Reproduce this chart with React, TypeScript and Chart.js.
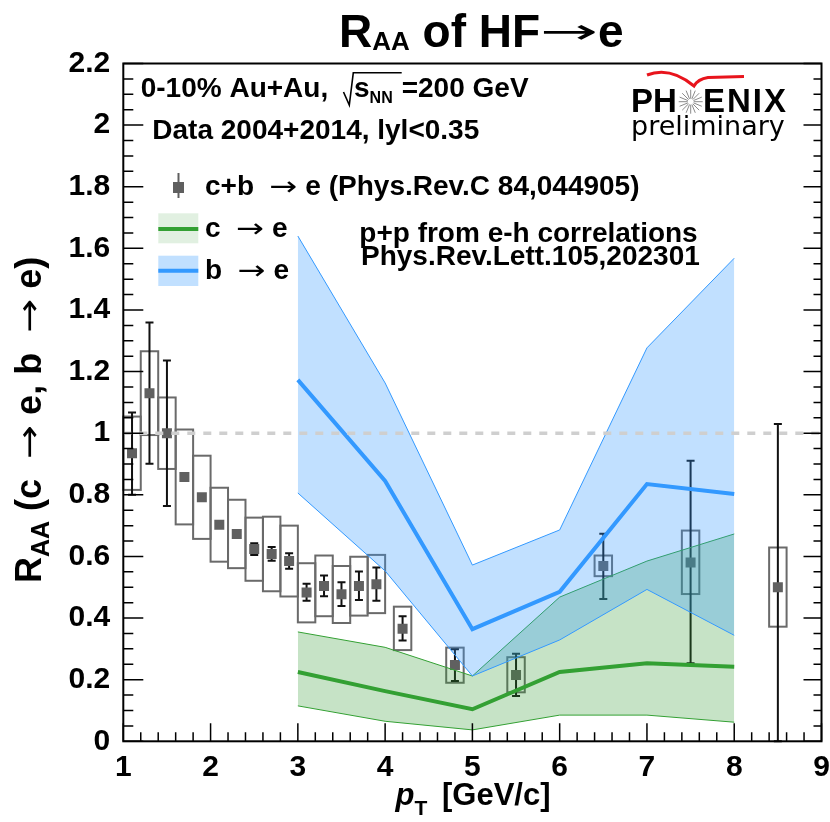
import React, { useEffect, useRef } from "react";
import { Chart, registerables } from "chart.js";

Chart.register(...registerables);

// ---- data: c+b -> e measurement ----
const ptPoints = [1.1, 1.3, 1.5, 1.7, 1.9, 2.1, 2.3, 2.5, 2.7, 2.9, 3.1, 3.3, 3.5, 3.7, 3.9, 4.2, 4.8, 5.5, 6.5, 7.5, 8.5];
const raaValues = [0.935, 1.13, 1.0, 0.858, 0.792, 0.703, 0.673, 0.624, 0.608, 0.585, 0.483, 0.504, 0.477, 0.504, 0.51, 0.365, 0.248, 0.215, 0.569, 0.58, 0.5];
const statLow = [0.8, 0.901, 0.764, 0.85, 0.785, 0.695, 0.66, 0.605, 0.586, 0.56, 0.456, 0.471, 0.439, 0.459, 0.456, 0.327, 0.196, 0.147, 0.462, 0.253, 0.0];
const statHigh = [1.067, 1.359, 1.236, 0.866, 0.8, 0.711, 0.686, 0.643, 0.631, 0.61, 0.511, 0.538, 0.516, 0.551, 0.564, 0.406, 0.299, 0.284, 0.674, 0.911, 1.03];
const sysLow = [0.816, 0.994, 0.884, 0.704, 0.657, 0.583, 0.562, 0.521, 0.487, 0.47, 0.386, 0.406, 0.384, 0.408, 0.416, 0.296, 0.19, 0.159, 0.536, 0.478, 0.372];
const sysHigh = [1.054, 1.266, 1.116, 1.012, 0.927, 0.823, 0.784, 0.726, 0.729, 0.7, 0.578, 0.603, 0.569, 0.599, 0.605, 0.437, 0.304, 0.273, 0.603, 0.684, 0.629];
const sysHalfWidth = 0.1;

// ---- data: b -> e and c -> e bands ----
const bandPt = [3, 4, 5, 6, 7, 8];
const bUpper = [1.64, 1.163, 0.572, 0.686, 1.277, 1.568];
const bCentral = [1.173, 0.845, 0.364, 0.485, 0.835, 0.803];
const bLower = [0.806, 0.553, 0.212, 0.329, 0.493, 0.344];
const cUpper = [0.355, 0.305, 0.212, 0.468, 0.585, 0.673];
const cCentral = [0.225, 0.163, 0.104, 0.225, 0.253, 0.242];
const cLower = [0.115, 0.065, 0.037, 0.085, 0.085, 0.062];

// ---- ticks ----
const xTickValues = [1, 2, 3, 4, 5, 6, 7, 8, 9];
const xTickLabels = ["1", "2", "3", "4", "5", "6", "7", "8", "9"];
const yTickValues = [0, 0.2, 0.4, 0.6, 0.8, 1, 1.2, 1.4, 1.6, 1.8, 2, 2.2];
const yTickLabels = ["0", "0.2", "0.4", "0.6", "0.8", "1", "1.2", "1.4", "1.6", "1.8", "2", "2.2"];

const FONT = '"Liberation Sans", Arial, sans-serif';
const SYM = '"DejaVu Sans", sans-serif';
const BLUE = "#3399ff";
const GREEN = "#33a033";
const ARROW = "\u2192";

const pts = (xs: number[], ys: number[]) => xs.map((x, i) => ({ x, y: ys[i] }));

type Seg = { t: string; size: number; dy?: number; arrowW?: number; style?: string };

// draws a run of text pieces; arrows drawn with a symbol font stretched to a given width
function drawRun(ctx: CanvasRenderingContext2D, segs: Seg[], x: number, y: number) {
  let cx = x;
  for (const s of segs) {
    if (s.arrowW) {
      ctx.font = `${s.size}px ${SYM}`;
      const w = ctx.measureText(s.t).width;
      ctx.save();
      ctx.translate(cx, y + (s.dy || 0));
      ctx.scale(s.arrowW / w, 1);
      ctx.fillText(s.t, 0, 0);
      ctx.restore();
      cx += s.arrowW;
    } else {
      ctx.font = `${s.style || "bold"} ${s.size}px ${FONT}`;
      ctx.fillText(s.t, cx, y + (s.dy || 0));
      cx += ctx.measureText(s.t).width;
    }
  }
  return cx - x;
}

const overlayPlugin = {
  id: "overlay",
  beforeDatasetsDraw(chart: any) {
    const { ctx, scales } = chart;
    const xs = scales.x, ys = scales.y;
    ctx.save();
    // systematic boxes
    ctx.strokeStyle = "#6a6a6a";
    ctx.lineWidth = 2;
    ptPoints.forEach((p, i) => {
      const x0 = xs.getPixelForValue(p - sysHalfWidth);
      const x1 = xs.getPixelForValue(p + sysHalfWidth);
      const y0 = ys.getPixelForValue(sysHigh[i]);
      const y1 = ys.getPixelForValue(sysLow[i]);
      ctx.strokeRect(x0, y0, x1 - x0, y1 - y0);
    });
    // statistical error bars
    ctx.strokeStyle = "#111";
    ctx.lineWidth = 2;
    ptPoints.forEach((p, i) => {
      const x = xs.getPixelForValue(p);
      const yl = ys.getPixelForValue(statLow[i]);
      const yh = ys.getPixelForValue(statHigh[i]);
      ctx.beginPath();
      ctx.moveTo(x, yl);
      ctx.lineTo(x, yh);
      ctx.moveTo(x - 4, yl);
      ctx.lineTo(x + 4, yl);
      ctx.moveTo(x - 4, yh);
      ctx.lineTo(x + 4, yh);
      ctx.stroke();
    });
    ctx.restore();
  },
  afterDatasetsDraw(chart: any) {
    const { ctx, scales, chartArea: a } = chart;
    const xs = scales.x, ys = scales.y;
    ctx.save();
    // dashed unity line
    ctx.strokeStyle = "#cfcfcf";
    ctx.lineWidth = 3.5;
    ctx.setLineDash([8, 8]);
    ctx.beginPath();
    ctx.moveTo(xs.getPixelForValue(1), ys.getPixelForValue(1));
    ctx.lineTo(xs.getPixelForValue(9), ys.getPixelForValue(1));
    ctx.stroke();
    ctx.setLineDash([]);
    // frame
    ctx.strokeStyle = "#000";
    ctx.lineWidth = 2;
    ctx.strokeRect(a.left, a.top, a.right - a.left, a.bottom - a.top);
    // ticks
    ctx.lineWidth = 1.5;
    ctx.beginPath();
    for (let k = 0; k <= 44; k++) {
      const v = k * 0.05;
      const py = ys.getPixelForValue(v);
      const major = k % 4 === 0;
      ctx.moveTo(a.left, py);
      ctx.lineTo(a.left + (major ? 20 : 10), py);
      ctx.moveTo(a.right, py);
      ctx.lineTo(a.right - (major ? 18 : 8), py);
    }
    for (let k = 0; k <= 40; k++) {
      const v = 1 + k * 0.2;
      const px = xs.getPixelForValue(v);
      const major = k % 5 === 0;
      ctx.moveTo(px, a.bottom);
      ctx.lineTo(px, a.bottom - (major ? 18 : 9));
    }
    ctx.stroke();
    ctx.restore();
  },
  afterDraw(chart: any) {
    const { ctx } = chart;
    ctx.save();
    ctx.fillStyle = "#000";
    ctx.textBaseline = "alphabetic";
    ctx.textAlign = "left";

    // Title
    drawRun(ctx, [
      { t: "R", size: 46 },
      { t: "AA", size: 26, dy: 3.3 },
      { t: " of HF", size: 46 },
      { t: ARROW, size: 34, arrowW: 58, dy: -4 },
      { t: "e", size: 46 },
    ], 339, 46.7);

    // Y axis title (rotated)
    ctx.save();
    ctx.translate(41, 583);
    ctx.rotate(-Math.PI / 2);
    drawRun(ctx, [
      { t: "R", size: 36 },
      { t: "AA", size: 25, dy: 8 },
      { t: " (c  ", size: 36 },
      { t: ARROW, size: 32, arrowW: 34, dy: -1 },
      { t: " e, b  ", size: 36 },
      { t: ARROW, size: 32, arrowW: 34, dy: -1 },
      { t: " e)", size: 36 },
    ], 0, 0);
    ctx.restore();

    // X axis title
    drawRun(ctx, [
      { t: "p", size: 31, style: "italic bold" },
      { t: "T", size: 21, dy: 10 },
    ], 395.6, 805);
    drawRun(ctx, [{ t: "[GeV/c]", size: 31 }], 442, 805);

    // info text
    drawRun(ctx, [{ t: "0-10% Au+Au,", size: 28 }], 140.7, 96.7);
    ctx.strokeStyle = "#000";
    ctx.lineWidth = 1.6;
    ctx.beginPath();
    ctx.moveTo(343.5, 92);
    ctx.lineTo(349.3, 105);
    ctx.lineTo(353.3, 72.7);
    ctx.lineTo(401.7, 72.7);
    ctx.stroke();
    drawRun(ctx, [
      { t: "s", size: 28 },
      { t: "NN", size: 16, dy: 6.6 },
    ], 354, 96.7);
    drawRun(ctx, [{ t: "=200 GeV", size: 28 }], 401.7, 96.7);
    drawRun(ctx, [{ t: "Data 2004+2014, lyl<0.35", size: 28 }], 152.3, 139);

    // legend
    ctx.fillStyle = "#5f5f5f";
    ctx.fillRect(173, 182, 11, 11);
    ctx.strokeStyle = "#5f5f5f";
    ctx.lineWidth = 2;
    ctx.beginPath();
    ctx.moveTo(178.5, 173);
    ctx.lineTo(178.5, 198);
    ctx.stroke();
    ctx.fillStyle = "#000";
    drawRun(ctx, [
      { t: "c+b  ", size: 28 },
      { t: ARROW, size: 26, arrowW: 28 },
      { t: " e (Phys.Rev.C 84,044905)", size: 28 },
    ], 205, 195);

    ctx.fillStyle = "rgba(51,153,51,0.15)";
    ctx.fillRect(158.3, 213.3, 40, 30);
    ctx.strokeStyle = GREEN;
    ctx.lineWidth = 4;
    ctx.beginPath();
    ctx.moveTo(158.3, 229);
    ctx.lineTo(198.3, 229);
    ctx.stroke();
    ctx.fillStyle = "#000";
    drawRun(ctx, [
      { t: "c  ", size: 28 },
      { t: ARROW, size: 26, arrowW: 28 },
      { t: " e", size: 28 },
    ], 205, 237.3);

    ctx.fillStyle = "rgba(51,153,255,0.3)";
    ctx.fillRect(158.3, 255.7, 40, 30.3);
    ctx.strokeStyle = BLUE;
    ctx.beginPath();
    ctx.moveTo(158.3, 270.7);
    ctx.lineTo(198.3, 270.7);
    ctx.stroke();
    ctx.fillStyle = "#000";
    drawRun(ctx, [
      { t: "b  ", size: 28 },
      { t: ARROW, size: 26, arrowW: 28 },
      { t: " e", size: 28 },
    ], 205, 279.3);

    drawRun(ctx, [{ t: "p+p from e-h correlations", size: 28 }], 359.3, 241.7);
    drawRun(ctx, [{ t: "Phys.Rev.Lett.105,202301", size: 28 }], 361, 265);

    // PHENIX logo
    ctx.strokeStyle = "#e8141c";
    ctx.lineWidth = 3;
    ctx.beginPath();
    ctx.moveTo(647, 75);
    ctx.quadraticCurveTo(670, 66, 694, 86);
    ctx.quadraticCurveTo(698, 79, 708, 77.5);
    ctx.lineTo(744, 76.5);
    ctx.stroke();
    drawRun(ctx, [{ t: "PH", size: 33 }], 631, 112.3);
    ctx.save();
    (ctx as any).letterSpacing = "2px";
    drawRun(ctx, [{ t: "ENIX", size: 33 }], 703, 112.3);
    ctx.restore();
    ctx.strokeStyle = "#8a8a8a";
    ctx.lineWidth = 1;
    ctx.beginPath();
    for (let k = 0; k < 16; k++) {
      const ang = (k * Math.PI) / 8;
      ctx.moveTo(690.7 + 3 * Math.cos(ang), 101.7 + 3 * Math.sin(ang));
      ctx.lineTo(690.7 + 12 * Math.cos(ang), 101.7 + 12 * Math.sin(ang));
    }
    ctx.stroke();
    ctx.fillStyle = "#000";
    ctx.font = `27px ${SYM}`;
    ctx.fillText("preliminary", 631, 135);
    ctx.restore();
  },
};

export default function App() {
  const canvasRef = useRef<HTMLCanvasElement | null>(null);

  useEffect(() => {
    document.body.style.margin = "0";
    const canvas = canvasRef.current;
    if (!canvas) return;
    const lineDs = (label: string, xs: number[], ys: number[], color: string, width: number, order: number, extra: any = {}) => ({
      type: "line",
      label,
      data: pts(xs, ys),
      borderColor: color,
      borderWidth: width,
      pointRadius: 0,
      tension: 0,
      fill: false,
      order,
      ...extra,
    });
    const chart = new Chart(canvas, {
      type: "line",
      data: {
        datasets: [
          lineDs("b central", bandPt, bCentral, BLUE, 4, 1),
          lineDs("b lower", bandPt, bLower, BLUE, 1, 1),
          lineDs("b upper", bandPt, bUpper, BLUE, 1, 1, { fill: { target: 1 }, backgroundColor: "rgba(51,153,255,0.3)" }),
          lineDs("c central", bandPt, cCentral, GREEN, 4, 2),
          lineDs("c lower", bandPt, cLower, GREEN, 1, 2),
          lineDs("c upper", bandPt, cUpper, GREEN, 1, 2, { fill: { target: 4 }, backgroundColor: "rgba(51,153,51,0.28)" }),
          {
            type: "scatter",
            label: "c+b -> e",
            data: pts(ptPoints, raaValues),
            pointStyle: "rect",
            pointRadius: 7.07,
            backgroundColor: "#606060",
            borderWidth: 0,
            showLine: false,
            order: 3,
          },
        ] as any,
      },
      options: {
        responsive: false,
        maintainAspectRatio: false,
        animation: false,
        layout: { padding: { left: 0, top: 63.5, right: 8.5, bottom: 0 } },
        plugins: { legend: { display: false }, tooltip: { enabled: false }, title: { display: false } },
        scales: {
          x: {
            type: "linear",
            min: 1,
            max: 9,
            afterBuildTicks: (s: any) => {
              s.ticks = xTickValues.map((v) => ({ value: v }));
            },
            ticks: {
              callback: (v: any) => xTickLabels[xTickValues.indexOf(Number(v))] ?? "",
              font: { family: FONT, weight: "bold", size: 30 },
              color: "#000",
              padding: 0,
              maxRotation: 0,
              autoSkip: false,
            },
            grid: { display: false },
            border: { display: false },
            afterFit: (s: any) => {
              s.height = 80.7;
              s.paddingLeft = 0;
              s.paddingRight = 0;
            },
          },
          y: {
            type: "linear",
            min: 0,
            max: 2.2,
            afterBuildTicks: (s: any) => {
              s.ticks = yTickValues.map((v) => ({ value: v }));
            },
            ticks: {
              callback: (v: any) => {
                const idx = yTickValues.findIndex((t) => Math.abs(t - Number(v)) < 1e-6);
                return idx >= 0 ? yTickLabels[idx] : "";
              },
              font: { family: FONT, weight: "bold", size: 30 },
              color: "#000",
              padding: 5,
              autoSkip: false,
            },
            grid: { display: false },
            border: { display: false },
            afterFit: (s: any) => {
              s.width = 123.3;
              s.paddingTop = 0;
              s.paddingBottom = 0;
            },
          },
        },
      } as any,
      plugins: [overlayPlugin],
    });
    return () => chart.destroy();
  }, []);

  return (
    <div style={{ width: 830, height: 822, position: "relative", background: "#fff" }}>
      <canvas ref={canvasRef} width={830} height={822} style={{ display: "block" }} />
    </div>
  );
}
